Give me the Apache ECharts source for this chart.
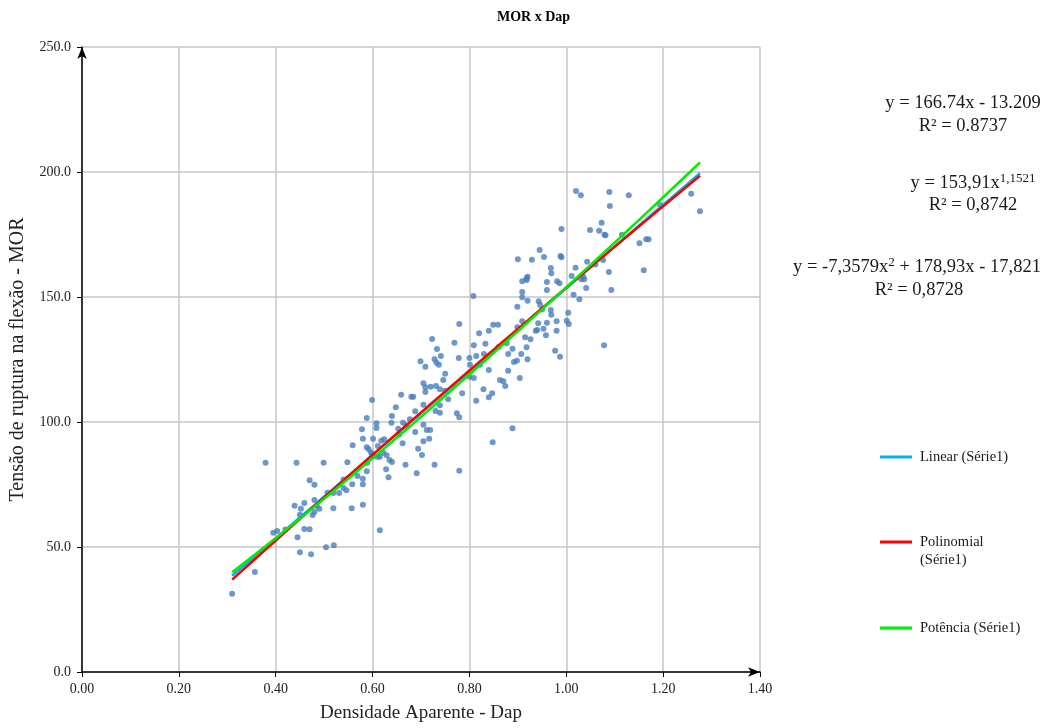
<!DOCTYPE html>
<html>
<head>
<meta charset="utf-8">
<title>MOR x Dap</title>
<script src="https://cdn.jsdelivr.net/npm/echarts@6/dist/echarts.min.js"></script>
<style>
  html, body { margin: 0; padding: 0; background: #ffffff; }
  #chart { width: 1047px; height: 728px; }
</style>
</head>
<body>
<div id="chart"></div>
<script>
// Densidade aparente (Dap) e tensão de ruptura na flexão (MOR) de cada corpo de prova
const dapValues = [
  0.379, 0.443, 0.499, 0.548, 0.559, 0.470, 0.480, 0.439, 0.459, 0.452, 0.480, 0.485, 0.490,
  0.480, 0.476, 0.450, 0.459, 0.470, 0.445, 0.395, 0.403, 0.450, 0.473, 0.504, 0.520, 0.357,
  0.310, 0.519, 0.531, 0.540, 0.546, 0.557, 0.519, 0.569, 0.558, 0.615, 0.507,
  0.723, 0.769, 0.820, 0.840, 0.733, 0.741, 0.728, 0.732, 0.737, 0.699, 0.709, 0.750, 0.778,
  0.800, 0.809, 0.833, 0.814, 0.801, 0.822, 0.830, 0.840, 0.746, 0.705, 0.709, 0.720, 0.731,
  0.709, 0.739, 0.659, 0.680, 0.684, 0.599, 0.785, 0.800, 0.809, 0.829, 0.847, 0.840, 0.814,
  0.863, 0.870, 0.874, 0.880, 0.904, 0.880, 0.892, 0.898, 0.907, 0.918, 0.920, 0.926, 0.915,
  0.889, 0.937, 0.877, 0.705, 0.688, 0.730, 0.739, 0.739, 0.756, 0.774, 0.779, 0.648, 0.640,
  0.639, 0.663, 0.653, 0.705, 0.712, 0.719, 0.688, 0.717, 0.705, 0.662, 0.694, 0.702, 0.668,
  0.728, 0.691, 0.779, 0.889, 0.848, 0.588, 0.578, 0.608, 0.608, 0.580, 0.601, 0.618, 0.624,
  0.611, 0.588, 0.592, 0.597, 0.601, 0.622, 0.629, 0.635, 0.640, 0.615, 0.610, 0.589, 0.628,
  0.633, 0.588, 0.580, 0.580, 0.580, 0.677,
  0.909, 0.918, 0.909, 0.909, 0.920, 0.899, 0.960, 0.960, 0.981, 0.986, 0.943, 0.946, 0.968,
  0.969, 1.004, 1.015, 1.027, 1.041, 1.093, 1.001, 1.005, 0.980, 0.980, 0.960, 0.953, 0.942,
  0.940, 0.958, 0.909, 0.899, 0.849, 0.859, 0.977, 0.987, 1.078,
  1.020, 1.030, 1.089, 1.129, 1.090, 1.258, 1.276, 1.073, 1.049, 1.068, 1.079, 1.081, 1.115,
  0.990, 1.151, 1.165, 1.170, 0.988, 0.990, 1.043, 1.076, 1.019, 1.011, 1.035, 1.037, 1.031,
  1.088, 1.160,
  0.900, 0.929, 0.945, 0.954, 0.968, 0.969, 0.920, 0.918, 0.808, 0.779, 1.193,
  0.655, 0.670, 0.750, 0.860, 0.950, 1.060, 0.540, 0.600, 0.420
];
const morValues = [
  83.7, 83.7, 83.7, 83.9, 90.7, 76.7, 74.9, 66.5, 67.6, 65.3, 68.8, 66.4, 65.3,
  64.0, 62.8, 62.9, 57.2, 57.1, 53.9, 55.7, 56.4, 47.9, 47.1, 49.9, 50.7, 40.0,
  31.3, 71.6, 71.6, 73.6, 72.7, 65.5, 65.5, 78.4, 75.1, 56.7, 71.7,
  133.2, 131.7, 135.5, 136.5, 129.2, 126.4, 125.1, 123.7, 122.9, 124.3, 122.1, 119.3, 125.6,
  125.6, 130.7, 131.3, 126.4, 122.9, 122.9, 127.2, 120.8, 116.8, 115.5, 113.9, 114.1, 114.4,
  112.0, 113.1, 110.9, 110.1, 110.1, 108.8, 111.5, 118.1, 117.6, 113.1, 111.5, 109.9, 108.5,
  116.8, 116.3, 114.4, 120.5, 117.6, 127.2, 124.0, 124.5, 127.2, 129.9, 125.1, 133.1, 133.9,
  129.3, 136.5, 131.5, 106.9, 104.3, 104.4, 103.7, 106.7, 109.1, 103.5, 101.9, 105.9, 102.4,
  99.7, 99.7, 97.3, 98.9, 96.8, 96.8, 96.0, 93.3, 92.3, 91.5, 89.3, 86.8, 82.9,
  82.9, 79.5, 80.5, 97.5, 91.9, 101.6, 97.1, 99.5, 97.6, 93.3, 93.3, 92.5, 93.1,
  90.4, 89.9, 89.1, 87.7, 86.4, 87.7, 86.7, 84.8, 84.0, 86.1, 86.1, 83.7, 81.1,
  77.9, 80.3, 77.3, 75.1, 66.9, 101.1,
  156.3, 156.8, 152.0, 149.9, 148.5, 146.1, 156.0, 152.8, 156.3, 155.5, 148.3, 146.9, 144.8,
  142.9, 143.7, 150.9, 149.1, 153.6, 152.8, 140.5, 139.2, 140.3, 136.5, 139.7, 137.3, 139.5,
  136.8, 134.7, 140.3, 137.9, 138.9, 138.9, 128.5, 126.1, 130.7,
  192.4, 190.7, 192.0, 190.7, 186.4, 191.3, 184.3, 179.7, 176.8, 176.5, 174.9, 174.7, 174.9,
  177.2, 171.5, 173.1, 173.1, 166.4, 165.9, 164.1, 164.8, 161.7, 158.4, 158.1, 157.1, 157.1,
  160.0, 160.7,
  165.1, 164.9, 168.8, 166.0, 161.6, 159.5, 158.1, 157.5, 150.4, 139.2, 187.0,
  95.0, 98.5, 112.5, 130.0, 145.0, 163.0, 77.0, 87.0, 57.0
];

// Coeficientes das linhas de tendência (Excel)
const linearCoef = [166.74, -13.209];          // y = a·x + b
const powerCoef = [153.91, 1.1521];            // y = a·x^b
const polyCoef = [-7.3579, 178.93, -17.821];   // y = a·x² + b·x + c

// Nomes das séries e textos das equações
const seriesNames = ['Série1', 'Linear (Série1)', 'Polinomial (Série1)', 'Potência (Série1)'];
const eqLinear = ['y = 166.74x - 13.209', 'R² = 0.8737'];
const eqPower = ['y = 153,91x', '1,1521', 'R² = 0,8742'];
const eqPoly = ['y = -7,3579x', '2', ' + 178,93x - 17,821', 'R² = 0,8728'];

const xTicks = { min: 0, max: 1.4, step: 0.2 };
const yTicks = { min: 0, max: 250, step: 50 };

const serif = '"Liberation Serif", "Times New Roman", serif';
const points = dapValues.map((x, i) => [x, morValues[i]]);
const xs = Array.from(new Set(dapValues)).sort((a, b) => a - b);
const trend = f => xs.map(x => [x, f(x)]);
const linearFit = trend(x => linearCoef[0] * x + linearCoef[1]);
const powerFit = trend(x => powerCoef[0] * Math.pow(x, powerCoef[1]));
const polyFit = trend(x => polyCoef[0] * x * x + polyCoef[1] * x + polyCoef[2]);

const chart = echarts.init(document.getElementById('chart'), null, { renderer: 'canvas' });

const legendText = { fontFamily: serif, fontSize: 14.5, color: '#1a1a1a', lineHeight: 18, padding: [0, 0, 0, 3] };
const legendBase = {
  orient: 'vertical',
  left: 880,
  padding: 0,
  icon: 'rect',
  itemWidth: 32,
  itemHeight: 3,
  itemGap: 0,
  selectedMode: false,
  textStyle: legendText
};

const eqSize = 18.5;
const eqText = { fontFamily: serif, fontSize: eqSize, fill: '#1a1a1a' };
const richMain = { fontFamily: serif, fontSize: eqSize, fill: '#1a1a1a', color: '#1a1a1a', lineHeight: 22 };
const richSup = { fontFamily: serif, fontSize: 13, fill: '#1a1a1a', color: '#1a1a1a', verticalAlign: 'top', lineHeight: 22 };

chart.setOption({
  animation: false,
  backgroundColor: '#ffffff',
  title: {
    text: 'MOR x Dap',
    left: 497,
    top: 10,
    padding: 0,
    textStyle: { fontFamily: serif, fontSize: 14, fontWeight: 'bold', color: '#000' }
  },
  grid: { left: 82, top: 47, width: 678, height: 625, containLabel: false },
  xAxis: {
    type: 'value',
    min: xTicks.min, max: xTicks.max, interval: xTicks.step,
    name: 'Densidade Aparente - Dap',
    nameLocation: 'middle',
    nameGap: 32,
    nameTextStyle: { fontFamily: serif, fontSize: 19, color: '#222' },
    axisLine: { show: true, onZero: false, symbol: ['none', 'arrow'], symbolSize: [7, 12],
      lineStyle: { color: '#000', width: 1.5 } },
    axisTick: { show: true, length: 5, lineStyle: { color: '#000', width: 1 } },
    axisLabel: { fontFamily: serif, fontSize: 14, color: '#222', margin: 10,
      formatter: v => v.toFixed(2) },
    splitLine: { show: true, lineStyle: { color: '#c6c6c6', width: 1.5 } }
  },
  yAxis: {
    type: 'value',
    min: yTicks.min, max: yTicks.max, interval: yTicks.step,
    name: 'Tensão de ruptura na flexão - MOR',
    nameLocation: 'middle',
    nameGap: 54,
    nameRotate: 90,
    nameTextStyle: { fontFamily: serif, fontSize: 20, color: '#222' },
    axisLine: { show: true, onZero: false, symbol: ['none', 'arrow'], symbolSize: [7, 12],
      lineStyle: { color: '#000', width: 1.5 } },
    axisTick: { show: true, length: 5, lineStyle: { color: '#000', width: 1 } },
    axisLabel: { fontFamily: serif, fontSize: 14, color: '#222', margin: 11,
      formatter: v => v.toFixed(1) },
    splitLine: { show: true, lineStyle: { color: '#c6c6c6', width: 1.5 } }
  },
  legend: [
    Object.assign({}, legendBase, { top: 448, data: [seriesNames[1]] }),
    // an empty leading line keeps the icon level with "Polinomial"
    Object.assign({}, legendBase, { top: 515, data: [seriesNames[2]],
      formatter: n => '\n' + n.replace(' (', '\n(') }),
    Object.assign({}, legendBase, { top: 619, data: [seriesNames[3]] })
  ],
  series: [
    {
      name: seriesNames[0], type: 'scatter', data: points,
      symbolSize: 6, itemStyle: { color: '#4a7ebb' }, z: 2
    },
    {
      name: seriesNames[1], type: 'line', data: linearFit, showSymbol: false,
      lineStyle: { color: '#00b0f0', width: 2.5 }, itemStyle: { color: '#00b0f0' }, z: 3
    },
    {
      name: seriesNames[2], type: 'line', data: polyFit, showSymbol: false,
      lineStyle: { color: '#ff0000', width: 2.5 }, itemStyle: { color: '#ff0000' }, z: 4
    },
    {
      name: seriesNames[3], type: 'line', data: powerFit, showSymbol: false,
      lineStyle: { color: '#00ee00', width: 2.5 }, itemStyle: { color: '#00ee00' }, z: 5
    }
  ],
  graphic: [
    { type: 'text', x: 963, y: 103, style: Object.assign({ text: eqLinear[0], align: 'center', verticalAlign: 'middle' }, eqText) },
    { type: 'text', x: 963, y: 126, style: Object.assign({ text: eqLinear[1], align: 'center', verticalAlign: 'middle' }, eqText) },
    { type: 'text', x: 973, y: 183, style: {
        text: '{a|' + eqPower[0] + '}{s|' + eqPower[1] + '}',
        align: 'center', verticalAlign: 'middle',
        rich: { a: richMain, s: richSup } } },
    { type: 'text', x: 973, y: 205, style: Object.assign({ text: eqPower[2], align: 'center', verticalAlign: 'middle' }, eqText) },
    { type: 'text', x: 917, y: 267, style: {
        text: '{a|' + eqPoly[0] + '}{s|' + eqPoly[1] + '}{a|' + eqPoly[2] + '}',
        align: 'center', verticalAlign: 'middle',
        rich: { a: richMain, s: richSup } } },
    { type: 'text', x: 919, y: 290, style: Object.assign({ text: eqPoly[3], align: 'center', verticalAlign: 'middle' }, eqText) }
  ]
});
</script>
</body>
</html>
